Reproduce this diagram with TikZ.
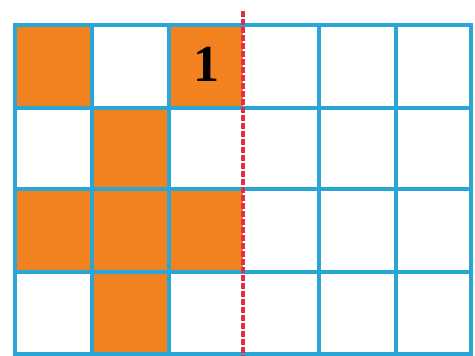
\documentclass[tikz,border=0pt]{standalone}
\usepackage{fontspec}
\newfontfamily\tnr{Liberation Serif}
\definecolor{gridblue}{HTML}{2AA6D6}
\definecolor{cellorange}{HTML}{F2821F}
\definecolor{cutred}{HTML}{E0304A}
\tikzset{
  cell/.style={fill=cellorange, draw=none},
  gridline/.style={draw=gridblue, line width=4.5pt, line cap=rect},
  cutline/.style={draw=cutred, line width=3.5pt, dash pattern=on 6pt off 2pt},
  numlabel/.style={font=\tnr\bfseries\fontsize{52}{52}\selectfont, text=black, inner sep=0pt}
}
\begin{document}
\begin{tikzpicture}[x=1pt,y=-1pt]
\useasboundingbox (0,0) rectangle (475,356);
% orange cells
\fill[cell] (15,25) rectangle (92,108);
\fill[cell] (169,25) rectangle (243,108);
\fill[cell] (92,108) rectangle (169,189);
\fill[cell] (15,189) rectangle (243,272);
\fill[cell] (92,272) rectangle (169,354);
% grid
\foreach \x in {15,92,169,319,396,471}
  \draw[gridline] (\x,25) -- (\x,354);
\foreach \y in {25,108,189,272,354}
  \draw[gridline] (15,\y) -- (471,\y);
% label
\node[numlabel] (one) at (206,64) {1};
% dashed cut line
\coordinate (cuttop) at (243,11);
\coordinate (cutbot) at (243,356);
\draw[cutline] (cuttop) -- (cutbot);
\end{tikzpicture}
\end{document}
